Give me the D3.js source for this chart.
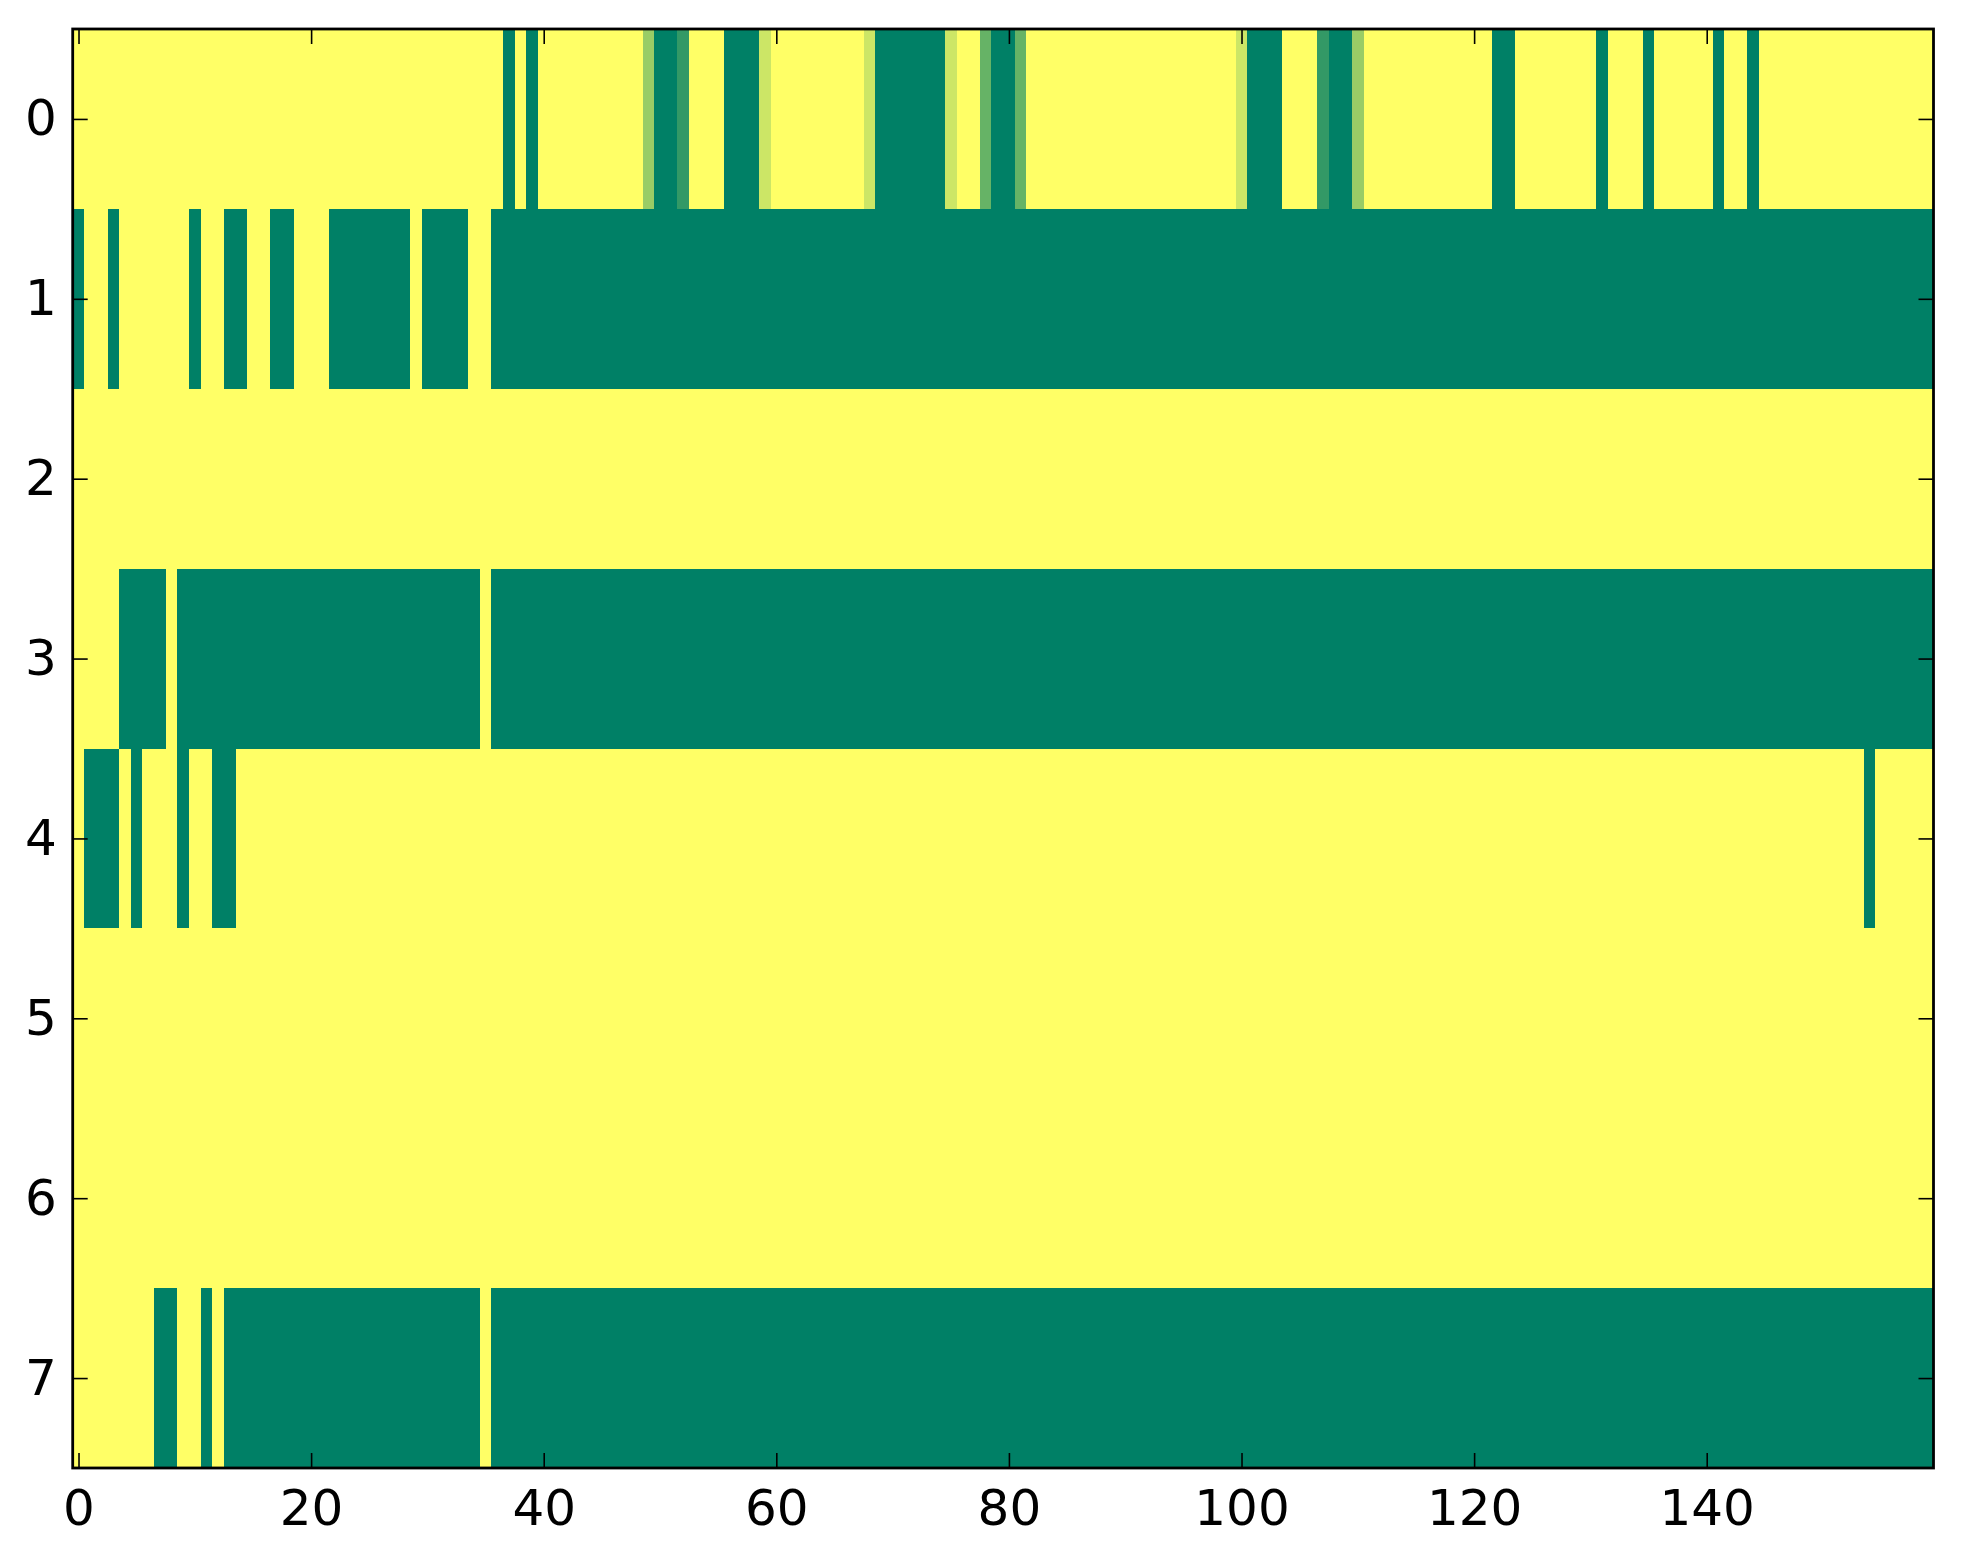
<!DOCTYPE html>
<html>
<head>
<meta charset="utf-8">
<script src="https://cdn.jsdelivr.net/npm/d3@7"></script>
<style>
  html, body { margin: 0; padding: 0; background: #ffffff; }
  svg { display: block; }
  text { font-family: "DejaVu Sans", sans-serif; }
</style>
</head>
<body>
<svg id="chart" width="1963" height="1564"></svg>
<script>
// ---- Data (values 0..1 mapped through the "summer" colormap) ----
const rowLabels = [0, 1, 2, 3, 4, 5, 6, 7];
const xTickValues = [0, 20, 40, 60, 80, 100, 120, 140];

const row0 = [
  1,1,1,1,1,1,1,1,1,1, 1,1,1,1,1,1,1,1,1,1,
  1,1,1,1,1,1,1,1,1,1, 1,1,1,1,1,1,1,0,1,0,
  1,1,1,1,1,1,1,1,1,0.6, 0,0,0.2,1,1,1,0,0,0,0.8,
  1,1,1,1,1,1,1,1,0.8,0, 0,0,0,0,0,0.8,1,1,0.4,0,
  0,0.4,1,1,1,1,1,1,1,1, 1,1,1,1,1,1,1,1,1,1,
  0.8,0,0,0,1,1,1,0.2,0,0, 0.6,1,1,1,1,1,1,1,1,1,
  1,1,0,0,1,1,1,1,1,1, 1,0,1,1,1,0,1,1,1,1,
  1,0,1,1,0,1,1,1,1,1, 1,1,1,1,1,1,1,1,1,1
];
const row1 = [
  0,1,1,0,1,1,1,1,1,1, 0,1,1,0,0,1,1,0,0,1,
  1,1,0,0,0,0,0,0,0,1, 0,0,0,0,1,1,0,0,0,0,
  0,0,0,0,0,0,0,0,0,0, 0,0,0,0,0,0,0,0,0,0,
  0,0,0,0,0,0,0,0,0,0, 0,0,0,0,0,0,0,0,0,0,
  0,0,0,0,0,0,0,0,0,0, 0,0,0,0,0,0,0,0,0,0,
  0,0,0,0,0,0,0,0,0,0, 0,0,0,0,0,0,0,0,0,0,
  0,0,0,0,0,0,0,0,0,0, 0,0,0,0,0,0,0,0,0,0,
  0,0,0,0,0,0,0,0,0,0, 0,0,0,0,0,0,0,0,0,0
];
const row2 = [
  1,1,1,1,1,1,1,1,1,1, 1,1,1,1,1,1,1,1,1,1,
  1,1,1,1,1,1,1,1,1,1, 1,1,1,1,1,1,1,1,1,1,
  1,1,1,1,1,1,1,1,1,1, 1,1,1,1,1,1,1,1,1,1,
  1,1,1,1,1,1,1,1,1,1, 1,1,1,1,1,1,1,1,1,1,
  1,1,1,1,1,1,1,1,1,1, 1,1,1,1,1,1,1,1,1,1,
  1,1,1,1,1,1,1,1,1,1, 1,1,1,1,1,1,1,1,1,1,
  1,1,1,1,1,1,1,1,1,1, 1,1,1,1,1,1,1,1,1,1,
  1,1,1,1,1,1,1,1,1,1, 1,1,1,1,1,1,1,1,1,1
];
const row3 = [
  1,1,1,1,0,0,0,0,1,0, 0,0,0,0,0,0,0,0,0,0,
  0,0,0,0,0,0,0,0,0,0, 0,0,0,0,0,1,0,0,0,0,
  0,0,0,0,0,0,0,0,0,0, 0,0,0,0,0,0,0,0,0,0,
  0,0,0,0,0,0,0,0,0,0, 0,0,0,0,0,0,0,0,0,0,
  0,0,0,0,0,0,0,0,0,0, 0,0,0,0,0,0,0,0,0,0,
  0,0,0,0,0,0,0,0,0,0, 0,0,0,0,0,0,0,0,0,0,
  0,0,0,0,0,0,0,0,0,0, 0,0,0,0,0,0,0,0,0,0,
  0,0,0,0,0,0,0,0,0,0, 0,0,0,0,0,0,0,0,0,0
];
const row4 = [
  1,0,0,0,1,0,1,1,1,0, 1,1,0,0,1,1,1,1,1,1,
  1,1,1,1,1,1,1,1,1,1, 1,1,1,1,1,1,1,1,1,1,
  1,1,1,1,1,1,1,1,1,1, 1,1,1,1,1,1,1,1,1,1,
  1,1,1,1,1,1,1,1,1,1, 1,1,1,1,1,1,1,1,1,1,
  1,1,1,1,1,1,1,1,1,1, 1,1,1,1,1,1,1,1,1,1,
  1,1,1,1,1,1,1,1,1,1, 1,1,1,1,1,1,1,1,1,1,
  1,1,1,1,1,1,1,1,1,1, 1,1,1,1,1,1,1,1,1,1,
  1,1,1,1,1,1,1,1,1,1, 1,1,1,1,0,1,1,1,1,1
];
const row5 = [
  1,1,1,1,1,1,1,1,1,1, 1,1,1,1,1,1,1,1,1,1,
  1,1,1,1,1,1,1,1,1,1, 1,1,1,1,1,1,1,1,1,1,
  1,1,1,1,1,1,1,1,1,1, 1,1,1,1,1,1,1,1,1,1,
  1,1,1,1,1,1,1,1,1,1, 1,1,1,1,1,1,1,1,1,1,
  1,1,1,1,1,1,1,1,1,1, 1,1,1,1,1,1,1,1,1,1,
  1,1,1,1,1,1,1,1,1,1, 1,1,1,1,1,1,1,1,1,1,
  1,1,1,1,1,1,1,1,1,1, 1,1,1,1,1,1,1,1,1,1,
  1,1,1,1,1,1,1,1,1,1, 1,1,1,1,1,1,1,1,1,1
];
const row6 = [
  1,1,1,1,1,1,1,1,1,1, 1,1,1,1,1,1,1,1,1,1,
  1,1,1,1,1,1,1,1,1,1, 1,1,1,1,1,1,1,1,1,1,
  1,1,1,1,1,1,1,1,1,1, 1,1,1,1,1,1,1,1,1,1,
  1,1,1,1,1,1,1,1,1,1, 1,1,1,1,1,1,1,1,1,1,
  1,1,1,1,1,1,1,1,1,1, 1,1,1,1,1,1,1,1,1,1,
  1,1,1,1,1,1,1,1,1,1, 1,1,1,1,1,1,1,1,1,1,
  1,1,1,1,1,1,1,1,1,1, 1,1,1,1,1,1,1,1,1,1,
  1,1,1,1,1,1,1,1,1,1, 1,1,1,1,1,1,1,1,1,1
];
const row7 = [
  1,1,1,1,1,1,1,0,0,1, 1,0,1,0,0,0,0,0,0,0,
  0,0,0,0,0,0,0,0,0,0, 0,0,0,0,0,1,0,0,0,0,
  0,0,0,0,0,0,0,0,0,0, 0,0,0,0,0,0,0,0,0,0,
  0,0,0,0,0,0,0,0,0,0, 0,0,0,0,0,0,0,0,0,0,
  0,0,0,0,0,0,0,0,0,0, 0,0,0,0,0,0,0,0,0,0,
  0,0,0,0,0,0,0,0,0,0, 0,0,0,0,0,0,0,0,0,0,
  0,0,0,0,0,0,0,0,0,0, 0,0,0,0,0,0,0,0,0,0,
  0,0,0,0,0,0,0,0,0,0, 0,0,0,0,0,0,0,0,0,0
];
const rows = [row0, row1, row2, row3, row4, row5, row6, row7];

// ---- Layout ----
const plot = { left: 72.7, right: 1933.5, top: 29, bottom: 1468 };
const nCols = row0.length;

const svg = d3.select("#chart");
svg.append("rect").attr("width", 1963).attr("height", 1564).attr("fill", "#ffffff");

const x = d3.scaleLinear().domain([-0.5, nCols - 0.5]).range([plot.left, plot.right]);
const y = d3.scaleLinear().domain([-0.5, rows.length - 0.5]).range([plot.top, plot.bottom]);
const color = d3.scaleLinear().domain([0, 1]).range(["#008066", "#ffff66"]);

const cells = [];
rows.forEach((r, ri) => r.forEach((v, ci) => cells.push({ r: ri, c: ci, v })));

svg.append("g")
  .selectAll("rect")
  .data(cells)
  .join("rect")
  .attr("x", d => x(d.c - 0.5))
  .attr("y", d => y(d.r - 0.5))
  .attr("width", d => x(d.c + 0.5) - x(d.c - 0.5) + 0.4)
  .attr("height", d => y(d.r + 0.5) - y(d.r - 0.5) + 0.4)
  .attr("fill", d => color(d.v))
  .attr("shape-rendering", "crispEdges");

// ---- Axes ----
function styleAxis(g, showLabels) {
  g.select(".domain").remove();
  g.selectAll(".tick line").attr("stroke", "#000").attr("stroke-width", 1.6);
  g.selectAll(".tick text")
    .attr("fill", "#000")
    .style("font-size", "50px")
    .style("font-family", "'DejaVu Sans', sans-serif");
  if (!showLabels) g.selectAll(".tick text").remove();
}

svg.append("g")
  .attr("transform", `translate(0,${plot.bottom})`)
  .call(d3.axisBottom(x).tickValues(xTickValues).tickSizeInner(-15).tickSizeOuter(0).tickPadding(21))
  .call(g => styleAxis(g, true));

svg.append("g")
  .attr("transform", `translate(0,${plot.top})`)
  .call(d3.axisTop(x).tickValues(xTickValues).tickSizeInner(-15).tickSizeOuter(0))
  .call(g => styleAxis(g, false));

svg.append("g")
  .attr("transform", `translate(${plot.left},0)`)
  .call(d3.axisLeft(y).tickValues(rowLabels).tickSizeInner(-15).tickSizeOuter(0).tickPadding(16))
  .call(g => styleAxis(g, true));

svg.append("g")
  .attr("transform", `translate(${plot.right},0)`)
  .call(d3.axisRight(y).tickValues(rowLabels).tickSizeInner(-15).tickSizeOuter(0))
  .call(g => styleAxis(g, false));

// Frame
svg.append("rect")
  .attr("x", plot.left)
  .attr("y", plot.top)
  .attr("width", plot.right - plot.left)
  .attr("height", plot.bottom - plot.top)
  .attr("fill", "none")
  .attr("stroke", "#000")
  .attr("stroke-width", 2.8);
</script>
</body>
</html>
